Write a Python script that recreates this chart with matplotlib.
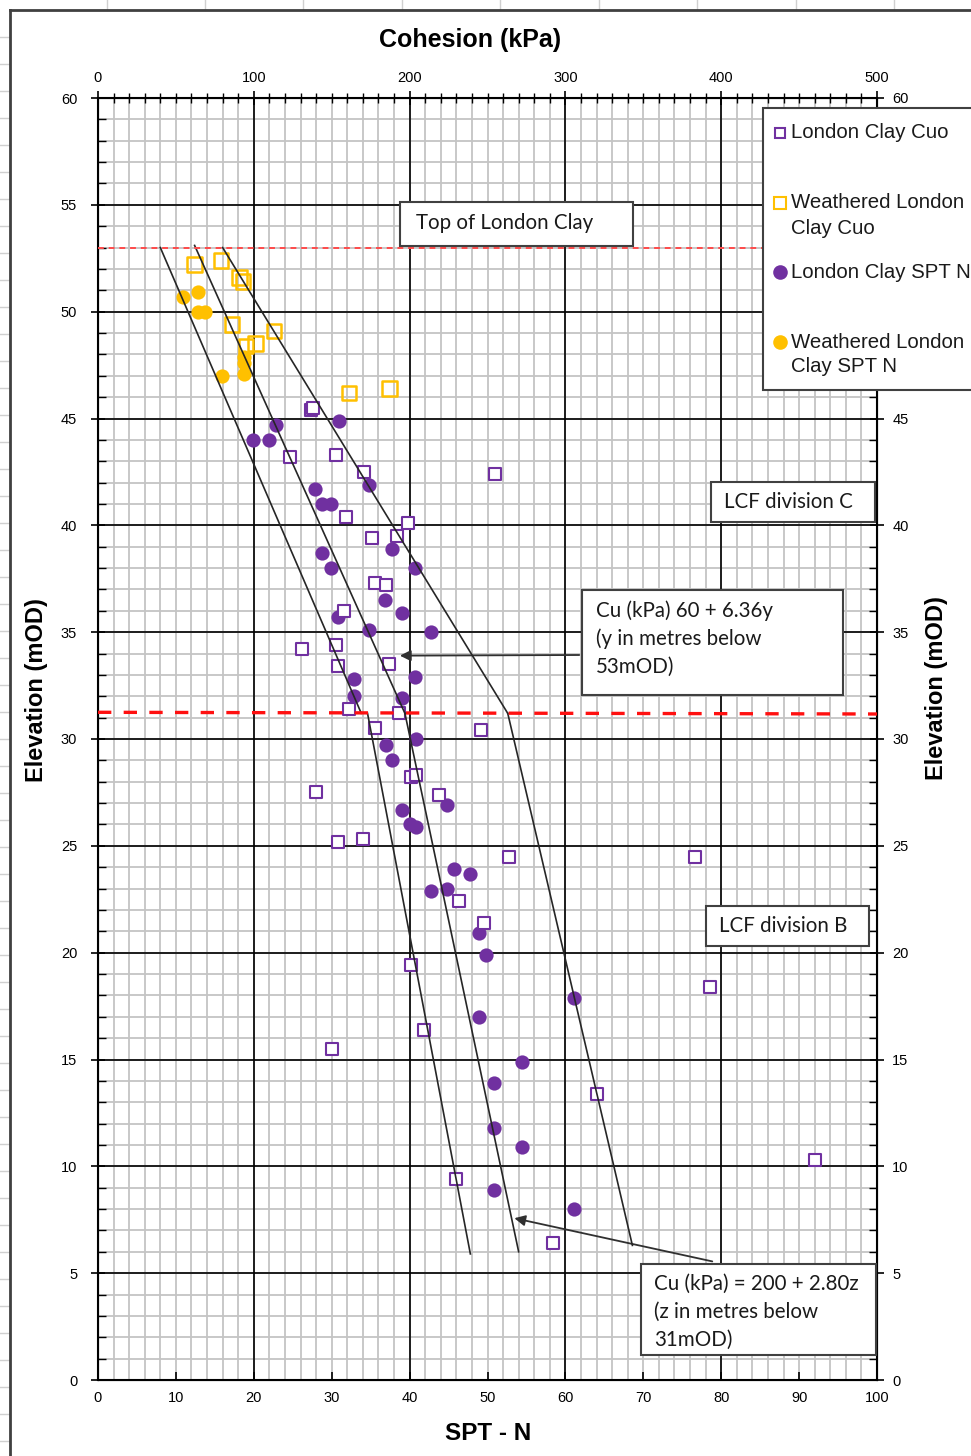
#!/usr/bin/python

import numpy as np
import matplotlib
matplotlib.use('Agg')
import matplotlib.pyplot as plt
from matplotlib.patches import Rectangle
from matplotlib.lines import Line2D
from matplotlib.ticker import MultipleLocator

plt.rcParams['font.family'] = ['Liberation Sans Narrow', 'Liberation Sans', 'DejaVu Sans']

# London Clay Cuo (kPa, top axis) and elevation (mOD)
lc_cuo_kpa = [137, 138, 123, 153, 171, 255, 159, 199, 176, 192, 178, 185, 158,
              131, 153, 154, 187, 161, 193, 178, 246, 140, 201, 204, 219, 154,
              170, 264, 232, 248, 201, 209, 150, 383, 393, 320, 460, 230, 292]
lc_cuo_elev = [45.4, 45.5, 43.2, 43.3, 42.5, 42.4, 40.4, 40.1, 39.4, 39.5, 37.3, 37.2, 36.0,
               34.2, 34.4, 33.4, 33.5, 31.4, 31.2, 30.5, 30.4, 27.5, 28.2, 28.3, 27.4, 25.2,
               25.3, 24.5, 22.4, 21.4, 19.4, 16.4, 15.5, 24.5, 18.4, 13.4, 10.3, 9.4, 6.4]

# Weathered London Clay Cuo
wlc_cuo_kpa = [62, 79, 91, 93, 86, 113, 95, 101, 161, 187]
wlc_cuo_elev = [52.2, 52.4, 51.6, 51.4, 49.4, 49.1, 48.4, 48.5, 46.2, 46.4]

# London Clay SPT N (bottom axis)
lc_spt_n = [30.9, 22.9, 19.9, 22.0, 27.9, 28.7, 29.9, 34.8, 37.8, 28.8, 29.9, 40.7,
            36.9, 30.8, 39.0, 34.8, 42.7, 40.7, 32.9, 32.9, 39.0, 40.8, 37.0, 37.8,
            39.0, 40.0, 40.8, 44.8, 45.7, 47.8, 42.8, 44.8, 48.9, 49.8, 61.1, 48.9,
            54.4, 50.8, 50.8, 54.4, 50.8, 61.1]
lc_spt_elev = [44.9, 44.7, 44.0, 44.0, 41.7, 41.0, 41.0, 41.9, 38.9, 38.7, 38.0, 38.0,
               36.5, 35.7, 35.9, 35.1, 35.0, 32.9, 32.8, 32.0, 31.9, 30.0, 29.7, 29.0,
               26.7, 26.0, 25.9, 26.9, 23.9, 23.7, 22.9, 23.0, 20.9, 19.9, 17.9, 17.0,
               14.9, 13.9, 11.8, 10.9, 8.9, 8.0]

# Weathered London Clay SPT N
wlc_spt_n = [10.9, 12.8, 12.8, 13.7, 18.7, 18.7, 15.9, 18.7]
wlc_spt_elev = [50.7, 50.9, 50.0, 50.0, 47.9, 47.6, 47.0, 47.1]

# design lines (kPa vs mOD), above and below 31 mOD
upper_elev = [53.0, 31.2]
upper_low = [40, 169]
upper_mid = [62, 197]
upper_high = [80, 263]
lower_elev = [31.2, 5.9]
lower_low = [173, 239]
lower_mid = [197, 270]
lower_high = [263, 343]

top_lc_elev = 53.0
lcf_c_b_elev = [31.25, 31.17]

# right-hand labels left showing beside the legend
right_labels = [0, 5, 10, 15, 20, 25, 30, 35, 40, 45, 60]

PURPLE = '#7030A0'
ORANGE = '#FFC000'
W, H = 971, 1456


def fx(px):
    return px / W


def fy(py):
    return 1 - py / H


fig = plt.figure(figsize=(W / 100, H / 100), dpi=100)
ax = fig.add_axes([fx(98), fy(1380), (877 - 98) / W, (1380 - 98) / H])
ax.set_xlim(0, 100)
ax.set_ylim(0, 60)

# grid
for x in np.arange(2, 100, 2):
    ax.axvline(x, color='#c4c4c4', lw=1.3, zorder=0)
for y in np.arange(1, 60, 1):
    ax.axhline(y, color='#c4c4c4', lw=1.3, zorder=0)
for x in np.arange(20, 100, 20):
    ax.axvline(x, color='black', lw=1.2, zorder=0.5)
for y in np.arange(5, 60, 5):
    ax.axhline(y, color='black', lw=1.2, zorder=0.5)

ax.scatter(lc_spt_n, lc_spt_elev, s=105, color=PURPLE, lw=0, zorder=3)
ax.scatter(wlc_spt_n, wlc_spt_elev, s=105, color=ORANGE, lw=0, zorder=3)

ax.xaxis.set_major_locator(MultipleLocator(10))
ax.yaxis.set_major_locator(MultipleLocator(5))
ax.yaxis.set_minor_locator(MultipleLocator(1))
ax.tick_params(axis='x', which='major', direction='in', length=6, width=1.2, pad=8, labelsize=10.5)
ax.tick_params(axis='y', which='major', direction='inout', length=10, width=1.2, labelsize=10.5,
               right=True, labelright=False, pad=10)
ax.tick_params(axis='y', which='minor', direction='in', length=6, width=1.0, right=True)
for s in ax.spines.values():
    s.set_linewidth(1.5)

sec = ax.secondary_yaxis('right')
sec.set_yticks(right_labels)
sec.tick_params(length=0, pad=11, labelsize=10.5)
sec.spines['right'].set_visible(False)

ax2 = ax.twiny()
ax2.set_xlim(0, 500)
ax2.set_ylim(0, 60)
ax2.xaxis.set_major_locator(MultipleLocator(100))
ax2.xaxis.set_minor_locator(MultipleLocator(10))
ax2.tick_params(axis='x', which='major', direction='inout', length=10, width=1.2, pad=4, labelsize=10.5)
ax2.tick_params(axis='x', which='minor', direction='inout', length=7, width=1.0)

ax2.scatter(lc_cuo_kpa, lc_cuo_elev, s=80, marker='s', facecolor='white', edgecolor=PURPLE, lw=1.5, zorder=4)
ax2.scatter(wlc_cuo_kpa, wlc_cuo_elev, s=110, marker='s', facecolor='none', edgecolor=ORANGE, lw=1.8, zorder=4)

for xs, ys in [(upper_low, upper_elev), (upper_mid, [53.1, 31.2]), (upper_high, upper_elev),
               (lower_low, lower_elev), (lower_mid, [31.2, 6.0]), (lower_high, [31.2, 6.3])]:
    ax2.plot(xs, ys, color='#262626', lw=1.2, zorder=5)

ax2.plot([0, 433], [top_lc_elev, top_lc_elev], color='#ff4a4a', lw=1.4, ls=(0, (3, 2.5)), zorder=5)
ax2.plot([0, 500], lcf_c_b_elev, color='#ff1010', lw=2.4, ls=(0, (4, 3.7)), zorder=5)

# axis titles
fig.text(fx(470), fy(40), 'Cohesion (kPa)', ha='center', va='center', fontsize=18,
         fontweight='bold', family='Liberation Sans')
fig.text(fx(488), fy(1433), 'SPT - N', ha='center', va='center', fontsize=17.5,
         fontweight='bold', family='Liberation Sans')
fig.text(fx(37), fy(690), 'Elevation (mOD)', ha='center', va='center', rotation=90, fontsize=17,
         fontweight='bold', family='Liberation Sans')
fig.text(fx(936), fy(688), 'Elevation (mOD)', ha='center', va='center', rotation=90, fontsize=17,
         fontweight='bold', family='Liberation Sans')


def box(x0, y0, x1, y1, lines, tx, ty, size=14.8):
    fig.add_artist(Rectangle((fx(x0), fy(y1)), (x1 - x0) / W, (y1 - y0) / H,
                             transform=fig.transFigure, facecolor='white',
                             edgecolor='#404040', lw=1.5, zorder=10))
    for i, line in enumerate(lines):
        fig.text(fx(tx), fy(ty + 28 * i), line, ha='left', va='center', fontsize=size,
                 family='Lato', color='#1a1a1a', zorder=11)


box(400, 202, 633, 246, ['Top of London Clay'], 416, 223)
box(711, 482, 875, 522, ['LCF division C'], 724, 502)
box(582, 590, 843, 695, ['Cu (kPa) 60 + 6.36y', '(y in metres below', '53mOD)'], 596, 611)
box(706, 906, 869, 946, ['LCF division B'], 719, 926)
box(641, 1264, 876, 1355, ['Cu (kPa) = 200 + 2.80z', '(z in metres below', '31mOD)'], 654, 1284)

ax.annotate('', xy=(38.4, 33.9), xytext=(fx(582), fy(655)), textcoords='figure fraction',
            arrowprops=dict(arrowstyle='-|>', color='#303030', lw=1.3, mutation_scale=16))
ax.annotate('', xy=(53.1, 7.6), xytext=(fx(715), fy(1262)), textcoords='figure fraction',
            arrowprops=dict(arrowstyle='-|>', color='#303030', lw=1.3, mutation_scale=16))

# legend (runs off the right edge, as in the sheet)
fig.add_artist(Rectangle((fx(763), fy(390)), 260 / W, (390 - 108) / H, transform=fig.transFigure,
                         facecolor='white', edgecolor='#404040', lw=1.5, zorder=10))
legend_rows = [
    ('s', 'white', PURPLE, 7, 133, ['London Clay Cuo']),
    ('s', 'white', ORANGE, 9, 203, ['Weathered London', 'Clay Cuo']),
    ('o', PURPLE, PURPLE, 9, 272, ['London Clay SPT N']),
    ('o', ORANGE, ORANGE, 9, 342, ['Weathered London', 'Clay SPT N']),
]
for marker, fc, ec, ms, y, lines in legend_rows:
    fig.add_artist(Line2D([fx(780)], [fy(y)], transform=fig.transFigure, marker=marker, ms=ms,
                          mfc=fc, mec=ec, mew=1.5, ls='none', zorder=11))
    for i, line in enumerate(lines):
        fig.text(fx(791), fy(y + 25 * i), line, ha='left', va='center', fontsize=14.7,
                 family='Liberation Sans', color='#1a1a1a', zorder=11)

# worksheet frame
for x in [107, 205, 303, 402, 500, 599, 697, 796, 894]:
    fig.add_artist(Line2D([fx(x)] * 2, [fy(0), fy(10)], transform=fig.transFigure,
                          color='#d0d0d0', lw=1))
for y in np.arange(37, H, 27):
    fig.add_artist(Line2D([fx(0), fx(9)], [fy(y)] * 2, transform=fig.transFigure,
                          color='#d0d0d0', lw=1))
fig.add_artist(Line2D([fx(10), fx(W)], [fy(10)] * 2, transform=fig.transFigure, color='#404040', lw=2))
fig.add_artist(Line2D([fx(10)] * 2, [fy(10), fy(H)], transform=fig.transFigure, color='#404040', lw=2))

fig.savefig('out.png', dpi=100)
